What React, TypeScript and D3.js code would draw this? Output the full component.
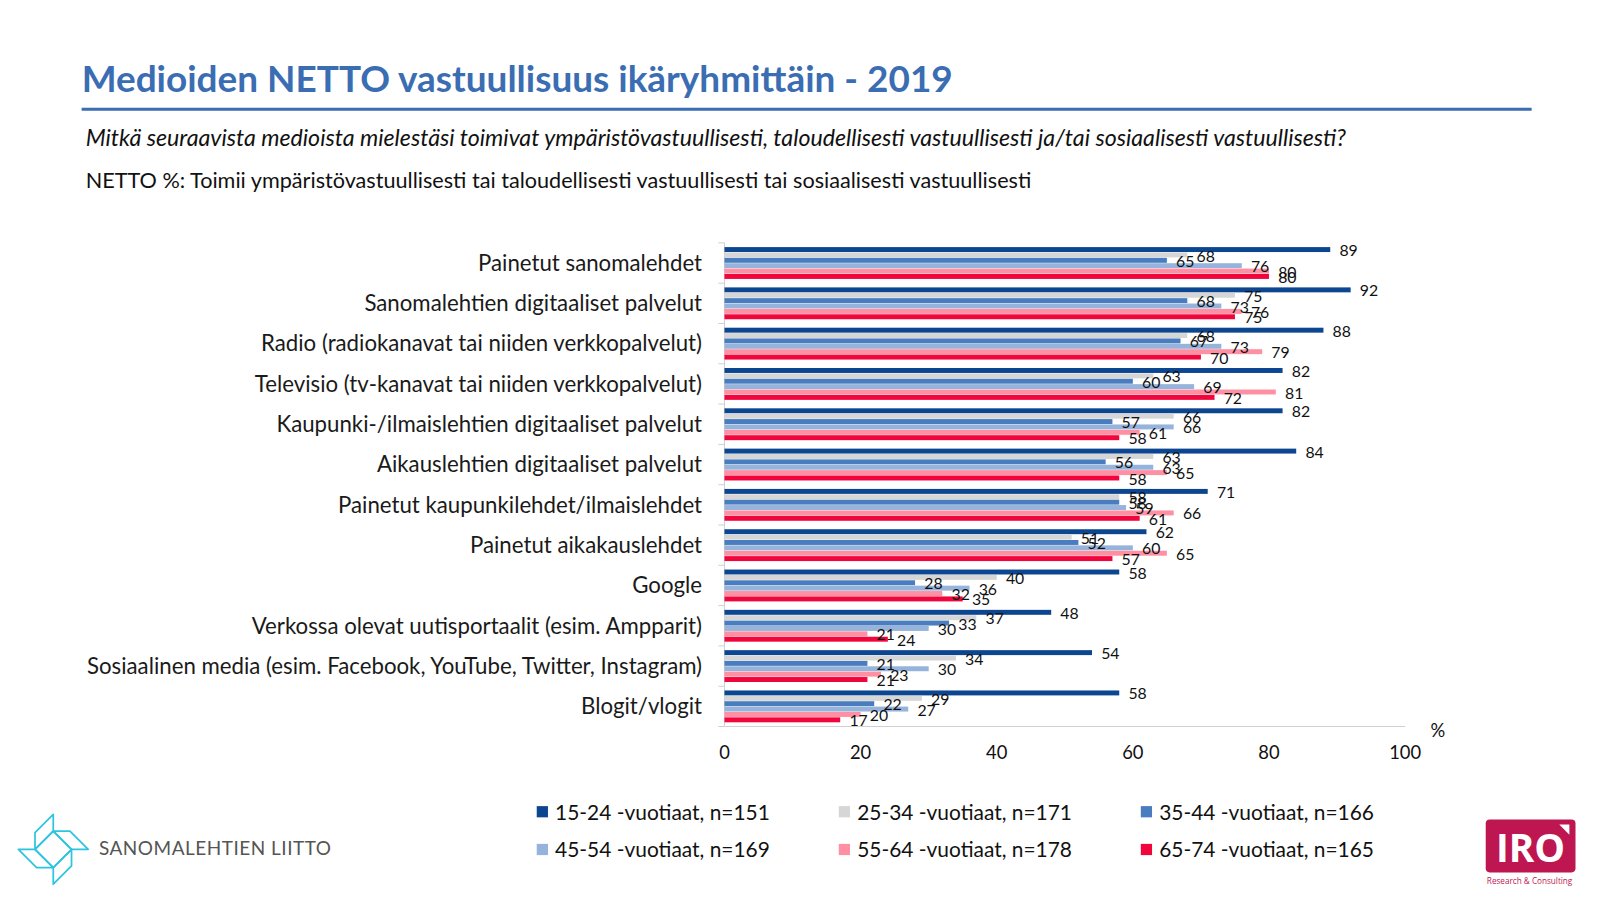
import React, { useEffect } from "react";
import * as d3 from "d3";

const categories = [
  "Painetut sanomalehdet",
  "Sanomalehtien digitaaliset palvelut",
  "Radio (radiokanavat tai niiden verkkopalvelut)",
  "Televisio (tv-kanavat tai niiden verkkopalvelut)",
  "Kaupunki-/ilmaislehtien digitaaliset palvelut",
  "Aikauslehtien digitaaliset palvelut",
  "Painetut kaupunkilehdet/ilmaislehdet",
  "Painetut aikakauslehdet",
  "Google",
  "Verkossa olevat uutisportaalit (esim. Ampparit)",
  "Sosiaalinen media (esim. Facebook, YouTube, Twitter, Instagram)",
  "Blogit/vlogit",
];

const seriesNames = [
  "15-24 -vuotiaat, n=151",
  "25-34 -vuotiaat, n=171",
  "35-44 -vuotiaat, n=166",
  "45-54 -vuotiaat, n=169",
  "55-64 -vuotiaat, n=178",
  "65-74 -vuotiaat, n=165",
];

const age1524 = [89, 92, 88, 82, 82, 84, 71, 62, 58, 48, 54, 58];
const age2534 = [68, 75, 68, 63, 66, 63, 58, 51, 40, 37, 34, 29];
const age3544 = [65, 68, 67, 60, 57, 56, 58, 52, 28, 33, 21, 22];
const age4554 = [76, 73, 73, 69, 66, 63, 59, 60, 36, 30, 30, 27];
const age5564 = [80, 76, 79, 81, 61, 65, 66, 65, 32, 21, 23, 20];
const age6574 = [80, 75, 70, 72, 58, 58, 61, 57, 35, 24, 21, 17];

const seriesValues = [age1524, age2534, age3544, age4554, age5564, age6574];
const colors = ["#0D4690", "#D6D6D6", "#4A7DBF", "#95B3DB", "#FF8FA2", "#F0053C"];
const xTicks = [0, 20, 40, 60, 80, 100];

const FONT = "Lato, 'Open Sans', sans-serif";

export default function App() {
  useEffect(() => {
    document.body.style.margin = "0";
  }, []);

  const x = d3.scaleLinear().domain([0, 100]).range([710, 1377]);
  const y = d3.scaleBand<string>().domain(categories).range([238, 712]).paddingInner(0.21).paddingOuter(0.105);
  const ySub = d3
    .scaleBand<number>()
    .domain(d3.range(seriesNames.length))
    .range([0, y.bandwidth()])
    .paddingInner(0.08);

  const sepLines = d3.range(categories.length + 1).map((i) => 238 + i * (474 / categories.length));

  // pinwheel logo geometry
  const cx = 52.2, cy = 832.3, r = 17.9, s = 16.3;
  const T: [number, number] = [cx, cy - r];
  const R: [number, number] = [cx + r, cy];
  const B: [number, number] = [cx, cy + r];
  const L: [number, number] = [cx - r, cy];
  const pts = (a: [number, number][]) => a.map((p) => p.join(",")).join(" ");
  const flaps: [number, number][][] = [
    [L, T, [T[0], T[1] - s], [L[0], L[1] - s]],
    [T, R, [R[0] + s, R[1]], [T[0] + s, T[1]]],
    [R, B, [B[0], B[1] + s], [R[0], R[1] + s]],
    [B, L, [L[0] - s, L[1]], [B[0] - s, B[1]]],
  ];

  return (
    <svg width={1600} height={900} viewBox="0 0 1568 882" style={{ display: "block", fontFamily: FONT }}>
      <rect width={1568} height={882} fill="#fff" />
      {/* title */}
      <text x={80} y={90} fontSize={36.2} fontWeight={700} fill="#3B6DB3">
        Medioiden NETTO vastuullisuus ikäryhmittäin - 2019
      </text>
      <line x1={80} x2={1501} y1={107} y2={107} stroke="#3B6DB3" strokeWidth={3} />
      <text x={84} y={143} fontSize={22.7} fontStyle="italic" fill="#111">
        Mitkä seuraavista medioista mielestäsi toimivat ympäristövastuullisesti, taloudellisesti vastuullisesti ja/tai sosiaalisesti vastuullisesti?
      </text>
      <text x={84} y={184} fontSize={21.2} fill="#111">
        NETTO %: Toimii ympäristövastuullisesti tai taloudellisesti vastuullisesti tai sosiaalisesti vastuullisesti
      </text>

      {/* axes */}
      <line x1={710} x2={710} y1={238} y2={712} stroke="#D0D0D0" />
      {sepLines.map((yy, i) => (
        <line key={i} x1={704} x2={710} y1={yy} y2={yy} stroke="#D0D0D0" />
      ))}
      <line x1={710} x2={1377} y1={712} y2={712} stroke="#D0D0D0" />
      {xTicks.map((t) => (
        <text key={t} x={x(t)} y={744} fontSize={18} textAnchor="middle" fill="#111">
          {t}
        </text>
      ))}
      <text x={1409} y={722} fontSize={18} textAnchor="middle" fill="#111">
        %
      </text>

      {/* categories */}
      {categories.map((c) => (
        <text
          key={c}
          x={688}
          y={(y(c) as number) + y.bandwidth() / 2}
          dy="0.35em"
          fontSize={21.8}
          textAnchor="end"
          fill="#1a1a1a"
        >
          {c}
        </text>
      ))}

      {/* bars */}
      {categories.map((c, ci) => (
        <g key={c} transform={`translate(0,${y(c)})`}>
          {seriesValues.map((vals, si) => (
            <rect
              key={si}
              x={x(0)}
              y={ySub(si)}
              width={x(vals[ci]) - x(0)}
              height={ySub.bandwidth()}
              fill={colors[si]}
            />
          ))}
          {seriesValues.map((vals, si) => (
            <text
              key={"l" + si}
              x={x(vals[ci]) + 9}
              y={(ySub(si) as number) + ySub.bandwidth() / 2 + 1}
              dy="0.35em"
              fontSize={15.5}
              fill="#111"
            >
              {vals[ci]}
            </text>
          ))}
        </g>
      ))}

      {/* legend */}
      {seriesNames.map((sn, i) => {
        const col = i % 3;
        const row = Math.floor(i / 3);
        const lx = 526 + col * 296;
        const ly = 796 + row * 37;
        return (
          <g key={sn}>
            <rect x={lx} y={ly - 6} width={11} height={11} fill={colors[i]} />
            <text x={lx + 18} y={ly} dy="0.35em" fontSize={20.5} fill="#111">
              {sn}
            </text>
          </g>
        );
      })}

      {/* Sanomalehtien liitto logo */}
      <g fill="none" stroke="#2EC4DF" strokeWidth={1.7} strokeLinejoin="round">
        <polygon points={pts([T, R, B, L])} />
        {flaps.map((f, i) => (
          <polygon key={i} points={pts(f)} />
        ))}
      </g>
      <text x={97} y={838} fontSize={18.6} fill="#555" letterSpacing={0.5}>
        SANOMALEHTIEN LIITTO
      </text>

      {/* IRO logo */}
      <rect x={1456} y={803} width={88} height={52} rx={4} fill="#BE1650" />
      <text x={1466} y={845} fontSize={38} fontWeight={700} fill="#fff" fontFamily="'Open Sans', sans-serif">
        IRO
      </text>
      <polygon points="1528,808 1538,808 1538,818" fill="#fff" />
      <text x={1499} y={866} fontSize={8} textAnchor="middle" fill="#BE1650" fontFamily="'Open Sans', sans-serif">
        Research &amp; Consulting
      </text>
    </svg>
  );
}
